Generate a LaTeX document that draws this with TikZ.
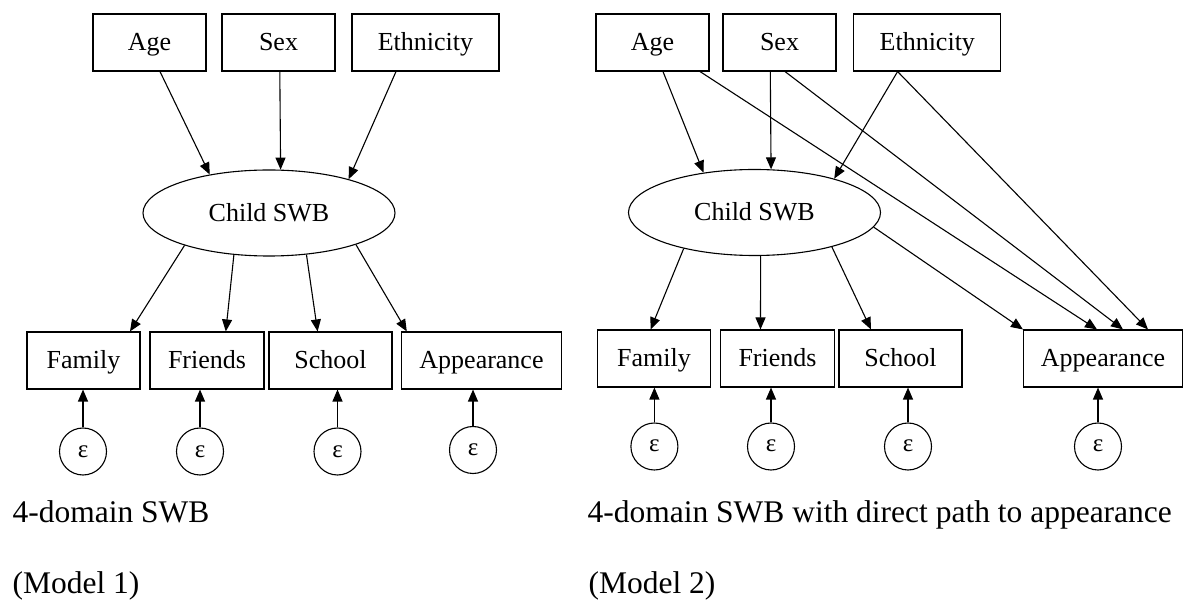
\documentclass[tikz,border=0pt]{standalone}
\usepackage{fontspec}
\setmainfont{Liberation Serif}
\usetikzlibrary{arrows.meta,shapes.geometric}
\begin{document}
\begin{tikzpicture}[x=1pt,y=-1pt,line width=1.1pt,
  box/.style={draw, rectangle, inner sep=0pt, minimum height=57pt,
    font=\fontsize{26}{30}\selectfont, text height=17pt, text depth=0pt},
  latent/.style={draw, ellipse, inner sep=0pt, minimum width=252pt, minimum height=86pt,
    font=\fontsize{26}{30}\selectfont, text height=17pt, text depth=0pt},
  err/.style={draw, circle, inner sep=0pt, minimum size=47pt,
    font=\fontsize{25}{28}\selectfont, text height=11pt, text depth=0pt},
  arr/.style={-{Triangle[length=12pt,width=10pt]}},
  captext/.style={anchor=base west, inner sep=0pt, font=\fontsize{31.5}{36}\selectfont}]
\useasboundingbox (0,0) rectangle (1184,601);

% ---------- Model 1 ----------
\node[box, minimum width=113pt] (ageL) at (149.5,42.5) {Age};
\node[box, minimum width=113pt] (sexL) at (278.5,42.5) {Sex};
\node[box, minimum width=147pt] (ethL) at (425.5,42.5) {Ethnicity};
\node[latent] (swbL) at (269,213) {Child SWB};
\node[box, minimum width=113pt] (famL) at (83.5,360.5) {Family};
\node[box, minimum width=114pt] (friL) at (207,360.5) {Friends};
\node[box, minimum width=123pt] (schL) at (330.5,360.5) {School};
\node[box, minimum width=160pt] (appL) at (481.5,360.5) {Appearance};
\node[err] (e1L) at (83,451.5) {ε};
\node[err] (e2L) at (200,451.5) {ε};
\node[err] (e3L) at (337.5,451.5) {ε};
\node[err] (e4L) at (473,450) {ε};

\draw[arr] ([xshift=10.5pt]ageL.south) -- (swbL.147.8);
\draw[arr] ([xshift=1.3pt]sexL.south) -- (swbL.75.7);
\draw[arr] ([xshift=-29.5pt]ethL.south) -- (swbL.23.1);
\draw[arr] (swbL.201) -- ([xshift=46.5pt]famL.north);
\draw[arr] (swbL.230.6) -- ([xshift=18.8pt]friL.north);
\draw[arr] (swbL.312.8) -- ([xshift=-12.9pt]schL.north);
\draw[arr] (swbL.340) -- ([xshift=-74.7pt]appL.north);
\foreach \e/\b in {e1L/famL, e2L/friL, e3L/schL, e4L/appL}
  \draw[arr] (\e.north) -- (\e.north |- \b.south);

\node[captext] (c1L) at (12,522) {4-domain SWB};
\node[captext] (c2L) at (12,593) {(Model 1)};

% ---------- Model 2 ----------
\node[box, minimum width=113pt] (ageR) at (652.5,42.5) {Age};
\node[box, minimum width=113pt] (sexR) at (779.5,42.5) {Sex};
\node[box, minimum width=147pt] (ethR) at (927.3,42.5) {Ethnicity};
\node[latent] (swbR) at (754.5,212.5) {Child SWB};
\node[box, minimum width=113pt] (famR) at (654,358.5) {Family};
\node[box, minimum width=114pt] (friR) at (777.5,358.5) {Friends};
\node[box, minimum width=123pt] (schR) at (900.5,358.5) {School};
\node[box, minimum width=159pt] (appR) at (1103,358.5) {Appearance};
\node[err] (e1R) at (654.4,446.5) {ε};
\node[err] (e2R) at (771,446.5) {ε};
\node[err] (e3R) at (908,446.5) {ε};
\node[err] (e4R) at (1098,446.5) {ε};

\draw[arr] ([xshift=10.5pt]ageR.south) -- (swbR.142.3);
\draw[arr] ([xshift=-9.2pt]sexR.south) -- (swbR.69.7);
\draw[arr] ([xshift=-29.7pt]ethR.south) -- (swbR.23.9);
\draw[arr] ([xshift=47.5pt]ageR.south) -- ([xshift=-6pt]appR.north);
\draw[arr] ([xshift=5.5pt]sexR.south) -- ([xshift=20pt]appR.north);
\draw[arr] ([xshift=-29.7pt]ethR.south) -- ([xshift=45pt]appR.north);
\draw[arr] (swbR.353.1) -- (appR.north west);
\draw[arr] (swbR.207) -- ([xshift=-3.4pt]famR.north);
\draw[arr] (swbR.278) -- ([xshift=-17pt]friR.north);
\draw[arr] (swbR.336.8) -- ([xshift=-29.5pt]schR.north);
\foreach \e/\b in {e1R/famR, e2R/friR, e3R/schR, e4R/appR}
  \draw[arr] (\e.north) -- (\e.north |- \b.south);

\node[captext] (c1R) at (587,522) {4-domain SWB with direct path to appearance};
\node[captext] (c2R) at (588,593) {(Model 2)};
\end{tikzpicture}
\end{document}
